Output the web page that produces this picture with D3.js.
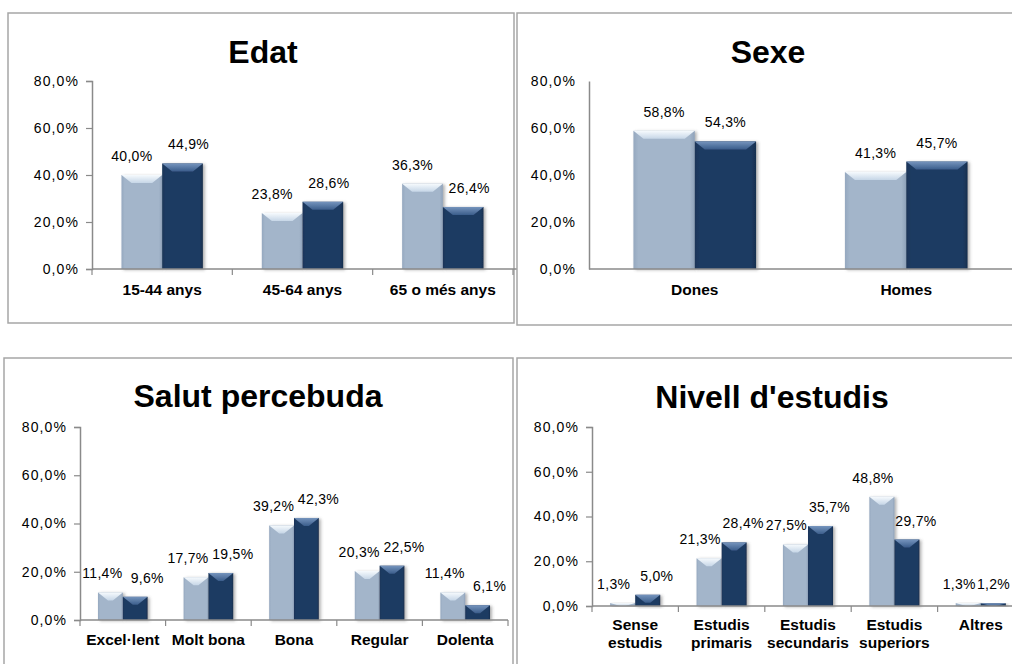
<!DOCTYPE html>
<html>
<head>
<meta charset="utf-8">
<script src="https://cdn.jsdelivr.net/npm/d3@7"></script>
<style>
html,body{margin:0;padding:0;background:#fff;overflow:hidden;}
svg{display:block;font-family:"Liberation Sans",Arial,sans-serif;}
</style>
</head>
<body>
<svg id="chart" width="1012" height="664"></svg>
<script>
// ---- Data ----
const yTickValues = [0, 20, 40, 60, 80];
const yTickLabels = ["0,0%", "20,0%", "40,0%", "60,0%", "80,0%"];

const edatTitle = "Edat";
const edatCategories = ["15-44 anys", "45-64 anys", "65 o més anys"];
const edatSeries1 = [40.0, 23.8, 36.3];
const edatSeries2 = [44.9, 28.6, 26.4];

const sexeTitle = "Sexe";
const sexeCategories = ["Dones", "Homes"];
const sexeSeries1 = [58.8, 41.3];
const sexeSeries2 = [54.3, 45.7];

const salutTitle = "Salut percebuda";
const salutCategories = ["Excel·lent", "Molt bona", "Bona", "Regular", "Dolenta"];
const salutSeries1 = [11.4, 17.7, 39.2, 20.3, 11.4];
const salutSeries2 = [9.6, 19.5, 42.3, 22.5, 6.1];

const estudisTitle = "Nivell d'estudis";
const estudisCategories = [["Sense", "estudis"], ["Estudis", "primaris"], ["Estudis", "secundaris"], ["Estudis", "superiors"], ["Altres"]];
const estudisSeries1 = [1.3, 21.3, 27.5, 48.8, 1.3];
const estudisSeries2 = [5.0, 28.4, 35.7, 29.7, 1.2];

const fmt = v => d3.format(".1f")(v).replace(".", ",") + "%";

// ---- Layout (styling only) ----
const panels = [
  {title: edatTitle, cats: edatCategories, s: [edatSeries1, edatSeries2],
   border: [8, 13, 514, 323], left: 92, right: 513, y0: 269, yTop: 81,
   titleX: 263, titleY: 63, labelY: 295, yTicks: true, xTicks: true, dx: [-10, 6]},
  {title: sexeTitle, cats: sexeCategories, s: [sexeSeries1, sexeSeries2],
   border: [517, 13, 1030, 325], left: 589, right: 1012, y0: 269, yTop: 81,
   titleX: 768, titleY: 63, labelY: 295, yTicks: false, xTicks: false, dx: [0, 0]},
  {title: salutTitle, cats: salutCategories, s: [salutSeries1, salutSeries2],
   border: [4, 358, 513, 690], left: 80, right: 508, y0: 620, yTop: 427,
   titleX: 258, titleY: 407, labelY: 645, yTicks: true, xTicks: true, dx: [-8, 12]},
  {title: estudisTitle, cats: estudisCategories, s: [estudisSeries1, estudisSeries2],
   border: [517, 358, 1030, 690], left: 592, right: 1024, y0: 606, yTop: 427,
   titleX: 772, titleY: 408, labelY: 630, yTicks: true, xTicks: true, dx: [-9, 9]}
];

const svg = d3.select("#chart");
const defs = svg.append("defs");

function vgrad(id, stops) {
  const g = defs.append("linearGradient").attr("id", id)
    .attr("x1", 0).attr("y1", 0).attr("x2", 0).attr("y2", 1);
  stops.forEach(s => g.append("stop").attr("offset", s[0]).attr("stop-color", s[1]));
}
function hgrad(id, stops) {
  const g = defs.append("linearGradient").attr("id", id)
    .attr("x1", 0).attr("y1", 0).attr("x2", 1).attr("y2", 0);
  stops.forEach(s => g.append("stop").attr("offset", s[0]).attr("stop-color", s[1]));
}
hgrad("body0", [[0, "#95a8bf"], [0.08, "#a3b5ca"], [0.92, "#a3b5ca"], [1, "#8fa2ba"]]);
hgrad("body1", [[0, "#1a3458"], [0.08, "#1f3b62"], [0.92, "#1f3b62"], [1, "#17304f"]]);
vgrad("bev0", [[0, "#f6fafd"], [1, "#c6d6e7"]]);
vgrad("bev1", [[0, "#7594bd"], [1, "#3b5d8b"]]);

const filt = defs.append("filter").attr("id", "shadow")
  .attr("x", "-20%").attr("y", "-10%").attr("width", "150%").attr("height", "130%");
filt.append("feDropShadow").attr("dx", 2).attr("dy", 1).attr("stdDeviation", 1.5)
  .attr("flood-color", "#555").attr("flood-opacity", 0.45);

panels.forEach(p => {
  const g = svg.append("g");
  const [bx0, by0, bx1, by1] = p.border;
  g.append("rect").attr("x", bx0).attr("y", by0).attr("width", bx1 - bx0).attr("height", by1 - by0)
    .attr("fill", "none").attr("stroke", "#a6a6a6").attr("stroke-width", 1.5);

  g.append("text").attr("x", p.titleX).attr("y", p.titleY).attr("text-anchor", "middle")
    .attr("font-size", 32).attr("font-weight", "bold").attr("fill", "#000").text(p.title);

  const y = d3.scaleLinear().domain([0, 80]).range([p.y0, p.yTop]);
  const keys = p.cats.map((c, i) => i);
  const x = d3.scaleBand().domain(keys).range([p.left, p.right]).padding(0);
  const bw = x.bandwidth();
  const xs = d3.scaleBand().domain([0, 1]).range([bw * 0.21, bw * 0.79]).padding(0);

  // y axis
  const yAxis = d3.axisLeft(y).tickValues(yTickValues)
    .tickFormat((d, i) => yTickLabels[i])
    .tickSize(p.yTicks ? 6 : 0).tickPadding(p.yTicks ? 7 : 13);
  const ya = g.append("g").attr("transform", `translate(${p.left},0)`).call(yAxis);
  ya.select(".domain").attr("stroke", "#8a8a8a").attr("stroke-width", 1.5);
  ya.selectAll(".tick line").attr("stroke", "#8a8a8a").attr("stroke-width", 1.2);
  ya.selectAll(".tick text").attr("font-size", 14).attr("fill", "#000")
    .attr("letter-spacing", "1.1px").attr("font-family", "Liberation Sans, Arial, sans-serif");

  // bars
  const filtG = g.append("g");
  p.s.forEach((series, si) => {
    series.forEach((v, ci) => {
      const bx = x(ci) + xs(si);
      const w = xs.bandwidth();
      const top = y(v);
      const h = p.y0 - top;
      if (h <= 0) return;
      const bg = filtG.append("g").attr("filter", "url(#shadow)");
      bg.append("rect").attr("x", bx).attr("y", top).attr("width", w).attr("height", h)
        .attr("fill", `url(#body${si})`);
      const depth = Math.min(8, h);
      const inset = Math.min(10, w * 0.45);
      bg.append("polygon")
        .attr("points", [[bx, top], [bx + w, top], [bx + w - inset, top + depth], [bx + inset, top + depth]].map(pt => pt.join(",")).join(" "))
        .attr("fill", `url(#bev${si})`);
    });
  });

  // x axis
  const xAxisG = g.append("g");
  xAxisG.append("line").attr("x1", p.left).attr("x2", p.right + (p === panels[0] ? 4 : 0))
    .attr("y1", p.y0).attr("y2", p.y0).attr("stroke", "#8a8a8a").attr("stroke-width", 1.5);
  if (p.xTicks) {
    const bounds = keys.map(k => x(k)).concat([p.right]);
    xAxisG.selectAll("line.xt").data(bounds).enter().append("line").attr("class", "xt")
      .attr("x1", d => d).attr("x2", d => d).attr("y1", p.y0).attr("y2", p.y0 + 6)
      .attr("stroke", "#8a8a8a").attr("stroke-width", 1.2);
  }
  p.cats.forEach((c, ci) => {
    const lines = Array.isArray(c) ? c : [c];
    const t = g.append("text").attr("x", x(ci) + bw / 2).attr("y", p.labelY)
      .attr("text-anchor", "middle").attr("font-size", 15.5).attr("font-weight", "bold").attr("fill", "#000");
    lines.forEach((l, li) => {
      t.append("tspan").attr("x", x(ci) + bw / 2).attr("dy", li === 0 ? 0 : 18).text(l);
    });
  });

  // data labels
  p.s.forEach((series, si) => {
    series.forEach((v, ci) => {
      const t = g.append("text")
        .attr("x", x(ci) + xs(si) + xs.bandwidth() / 2 + p.dx[si])
        .attr("y", y(v) - 14)
        .attr("text-anchor", "middle").attr("font-size", 14).attr("letter-spacing", "0.3px")
        .attr("fill", "#000").text(fmt(v));
      // keep labels inside the 1012px-wide view
      const bb = t.node().getBBox();
      if (bb.x + bb.width > 1010) {
        t.attr("x", +t.attr("x") - (bb.x + bb.width - 1010));
      }
    });
  });
});
</script>
</body>
</html>
